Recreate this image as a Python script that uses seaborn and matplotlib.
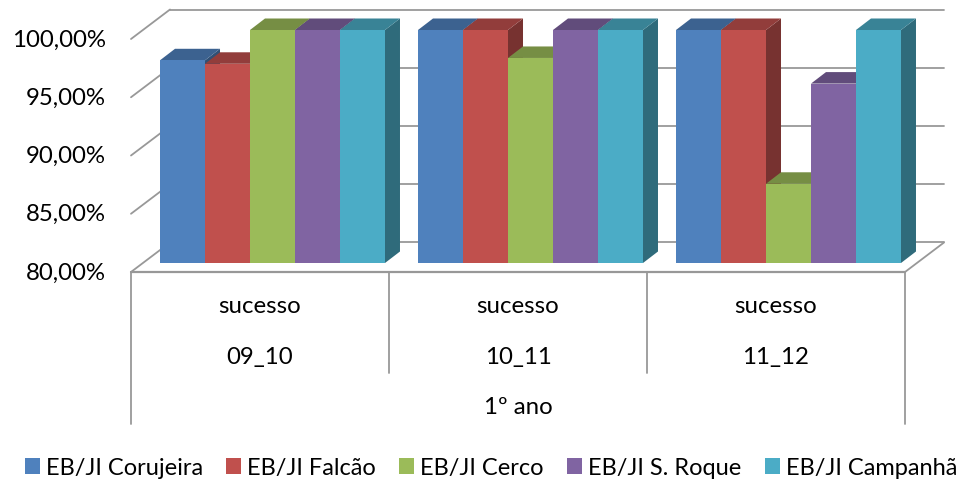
"""
3D style clustered bars of school success rates, drawn with seaborn
"""
import pandas as pd
import matplotlib.pyplot as plt
import seaborn as sns
from matplotlib.colors import to_rgb
from matplotlib.patches import Polygon

years = ['09_10', '10_11', '11_12']
schools = ['EB/JI Corujeira', 'EB/JI Falcão', 'EB/JI Cerco', 'EB/JI S. Roque', 'EB/JI Campanhã']
corujeira = [97.4, 100, 100]
falcao = [97.1, 100, 100]
cerco = [100, 97.6, 86.8]
s_roque = [100, 100, 95.4]
campanha = [100, 100, 100]
colors = ['#4F81BD', '#C0504D', '#9BBB59', '#8064A2', '#4BACC6']
y_ticks = [80, 85, 90, 95, 100]
y_tick_labels = ['80,00%', '85,00%', '90,00%', '95,00%', '100,00%']
upper_label = 'sucesso'
outer_label = '1º ano'

W, H = 968, 481
FONT = 17.3
# one pixel in data units
PX = 1 / 258
PY = 20 / 233
GRID = '#989898'


def shade(color, factor):
    return tuple(c * factor for c in to_rgb(color))


sns.set_theme(style='white')
plt.rcParams['font.family'] = ['Lato', 'DejaVu Sans']

df = pd.DataFrame({
    'year': years * 5,
    'school': [s for s in schools for _ in years],
    'value': corujeira + falcao + cerco + s_roque + campanha,
})

fig = plt.figure(figsize=(W / 100, H / 100), dpi=100)
ax = fig.add_axes([143.5 / W, (H - 264) / H, 774 / W, 233 / H])
sns.barplot(data=df, x='year', y='value', hue='school', palette=colors, saturation=1,
            width=0.872, gap=0, ax=ax, linewidth=0, zorder=10)
ax.set_xlim(-0.5, 2.5)
ax.set_ylim(80, 100)
ax.axis('off')
handles, labels = ax.get_legend_handles_labels()
ax.get_legend().remove()

# plane offsets relative to the bar fronts
fx, fy = -12.5 * PX, -9 * PY
bx, by = 26.5 * PX, 20.5 * PY
left, right = -0.5, 2.5

# back wall, left wall and floor lines
for tick, label in zip(y_ticks, y_tick_labels):
    ax.plot([left + fx, left + bx], [tick + fy, tick + by], color=GRID, lw=1.3, clip_on=False, zorder=1)
    ax.plot([left + bx, right + bx], [tick + by, tick + by], color=GRID, lw=1.3, clip_on=False, zorder=1)
    ax.text(left + fx - 25 * PX, tick + fy, label, ha='right', va='center', fontsize=FONT, color='black')
ax.plot([right + fx, right + bx], [80 + fy, 80 + by], color=GRID, lw=1.3, clip_on=False, zorder=1)
ax.plot([left + fx, right + fx], [80 + fy, 80 + fy], color=GRID, lw=1.6, clip_on=False, zorder=1)

# category separators below the floor
for i in range(len(years) + 1):
    outer = i in (0, len(years))
    drop = 152 if outer else 101
    xpos = left + i + fx
    ax.plot([xpos, xpos], [80 + fy, 80 + fy - drop * PY], color=GRID, lw=1.3, clip_on=False, zorder=1)

for i, year in enumerate(years):
    ax.text(i + fx, 80 + fy - 34 * PY, upper_label, ha='center', va='center', fontsize=FONT, color='black')
    ax.text(i + fx, 80 + fy - 85 * PY, year, ha='center', va='center', fontsize=FONT, color='black')
ax.text(1 + fx, 80 + fy - 135 * PY, outer_label, ha='center', va='center', fontsize=FONT, color='black')

# depth faces, painted left to right so neighbours hide each other
dx, dy = 15 * PX, 11.5 * PY
bars = sorted([p for p in ax.patches if p.get_height() > 0], key=lambda p: p.get_x())
for rank, bar in enumerate(bars):
    x0 = bar.get_x()
    x1 = x0 + bar.get_width()
    top = bar.get_height()
    base = bar.get_facecolor()[:3]
    z = 10 + rank
    bar.set_zorder(z + 0.2)
    side = Polygon([(x1, 80), (x1 + dx, 80 + dy), (x1 + dx, top + dy), (x1, top)],
                   facecolor=shade(base, 0.62), edgecolor='none', clip_on=False, zorder=z)
    cap = Polygon([(x0, top), (x0 + dx, top + dy), (x1 + dx, top + dy), (x1, top)],
                  facecolor=shade(base, 0.76), edgecolor='none', clip_on=False, zorder=z + 0.1)
    ax.add_patch(side)
    ax.add_patch(cap)

fig.legend(handles, labels, loc='center', bbox_to_anchor=(491 / W, (H - 469) / H), ncol=5, frameon=False,
           fontsize=17, handlelength=0.63, handleheight=0.63, handletextpad=0.25, columnspacing=1.0,
           labelcolor='black')

fig.savefig('out.png', dpi=100)
